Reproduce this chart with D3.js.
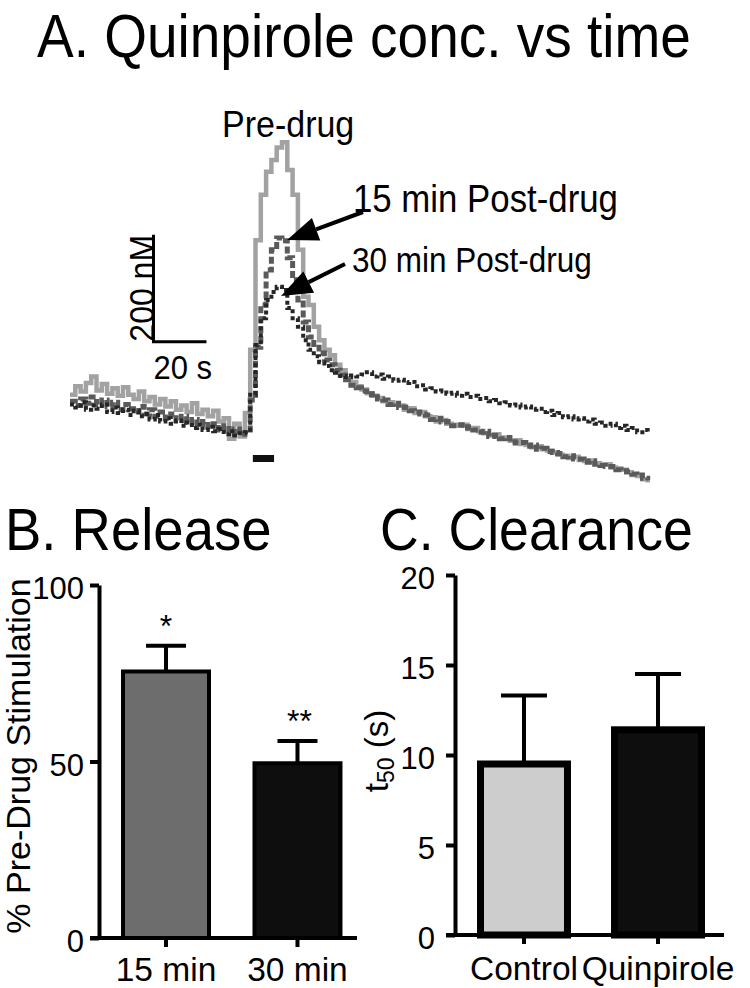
<!DOCTYPE html>
<html>
<head>
<meta charset="utf-8">
<script src="https://cdnjs.cloudflare.com/ajax/libs/d3/7.8.5/d3.min.js"></script>
<style>
  body { margin: 0; background: #fff; }
  svg text { font-family: "Liberation Sans", Arial, Helvetica, sans-serif; fill: #000; }
</style>
</head>
<body>
<svg id="fig" width="750" height="988"></svg>
<script>
// ---- panel A: voltammetry traces, one sample every 2 s (nM) ----
const sampleStep = 2
const preDrug = [
  178, 194, 184, 200, 212, 186, 198, 180, 190, 176, 192, 178, 170, 184, 166, 174,
  160, 170, 156, 166, 150, 158, 146, 162, 142, 150, 138, 148, 128, 134, 96, 124,
  100, 144, 262, 467, 552, 595, 617, 640, 650, 598, 552, 449, 361, 346, 305, 280,
  262, 252, 234, 224, 209, 202, 194, 188, 181, 176, 172, 166, 164, 160, 158, 150,
  153, 144, 146, 138, 136, 128, 131, 124, 122, 120, 122, 114, 116, 110, 106, 102,
  104, 98, 96, 92, 93, 86, 84, 80, 82, 76, 74, 70, 66, 64, 60, 62,
  56, 54, 55, 50, 47, 48, 42, 40, 38, 33, 28, 26, 20, 14
]
const post15 = [
  166, 158, 170, 162, 174, 160, 168, 156, 164, 150, 160, 152, 146, 156, 142, 150,
  138, 146, 134, 142, 130, 138, 126, 132, 122, 128, 118, 124, 112, 120, 106, 114,
  104, 112, 168, 267, 346, 411, 449, 471, 466, 434, 393, 355, 314, 286, 267, 256,
  243, 234, 224, 215, 206, 196, 191, 185, 178, 180, 170, 168, 160, 162, 154, 155,
  148, 146, 142, 140, 132, 134, 127, 128, 120, 122, 116, 118, 112, 108, 110, 100,
  102, 96, 98, 90, 88, 89, 82, 84, 76, 78, 72, 70, 68, 62, 64, 58,
  58, 52, 54, 48, 46, 44, 44, 38, 36, 34, 30, 28, 22, 18
]
const post30 = [
  160, 154, 164, 150, 158, 152, 160, 146, 154, 144, 150, 140, 148, 138, 142, 132,
  140, 128, 134, 124, 130, 120, 126, 116, 122, 112, 118, 110, 114, 104, 110, 102,
  106, 108, 178, 271, 321, 355, 370, 380, 374, 340, 321, 305, 280, 262, 250, 239,
  232, 224, 219, 213, 211, 214, 212, 216, 220, 212, 216, 208, 212, 204, 206, 200,
  202, 194, 196, 188, 190, 184, 186, 180, 182, 176, 180, 174, 176, 170, 172, 166,
  168, 162, 164, 158, 160, 154, 156, 150, 152, 146, 148, 140, 144, 136, 138, 132,
  134, 128, 132, 124, 126, 120, 124, 116, 120, 112, 116, 108, 112, 106
]
const stimWindow = [69, 77]      // s
const scaleBar = { t: 31.5, c: 277, dt: 20, dc: 200 }

// ---- panel B: release ----
const releaseGroups = ['15 min', '30 min']
const releaseMean = [75.5, 49.5]
const releaseSem = [7.3, 6.3]
const releaseStars = ['*', '**']
const releaseTicks = [0, 50, 100]

// ---- panel C: clearance ----
const clearGroups = ['Control', 'Quinpirole']
const clearMean = [9.5, 11.4]
const clearSem = [3.8, 3.1]
const clearTicks = [0, 5, 10, 15, 20]

const svg = d3.select('#fig')

// text with a slight vertical stretch, like the original figure's lettering
function label (x, y, txt, size, stretch) {
  return svg.append('text')
    .attr('transform', `translate(${x},${y}) scale(1,${stretch || 1.1})`)
    .attr('font-size', size)
    .text(txt)
}

// ================= A =================
label(37, 57, 'A. Quinpirole conc. vs time', 55)

const xA = d3.scaleLinear().domain([0, 220]).range([70, 653])
const yA = d3.scaleLinear().domain([0, 600]).range([490, 169])

const trace = d3.line()
  .x((d, i) => xA(i * sampleStep))
  .y(d => yA(d))
  .curve(d3.curveStepAfter)

svg.append('path').attr('d', trace(preDrug))
  .attr('fill', 'none').attr('stroke', '#a2a2a2').attr('stroke-width', 4.5)
svg.append('path').attr('d', trace(post15))
  .attr('fill', 'none').attr('stroke', '#5a5a5a').attr('stroke-width', 5)
  .attr('stroke-dasharray', '7,3')
svg.append('path').attr('d', trace(post30))
  .attr('fill', 'none').attr('stroke', '#262626').attr('stroke-width', 4)
  .attr('stroke-dasharray', '4,3')

// stimulation bar
svg.append('rect')
  .attr('x', xA(stimWindow[0])).attr('width', xA(stimWindow[1]) - xA(stimWindow[0]))
  .attr('y', 455).attr('height', 7).attr('fill', '#111')

// scale bar
const sb0x = xA(scaleBar.t), sb0y = yA(scaleBar.c)
svg.append('path')
  .attr('d', `M${sb0x},${yA(scaleBar.c + scaleBar.dc)}V${sb0y}H${xA(scaleBar.t + scaleBar.dt)}`)
  .attr('fill', 'none').attr('stroke', '#000').attr('stroke-width', 3)
svg.append('text')
  .attr('transform', `translate(${sb0x + 1},${(sb0y + yA(scaleBar.c + scaleBar.dc)) / 2}) rotate(-90) scale(1,1.1)`)
  .attr('text-anchor', 'middle').attr('font-size', 32).text('200 nM')
label(sb0x, 379, '20 s', 31)

// annotations
label(222, 137, 'Pre-drug', 34)
label(353, 212, '15 min Post-drug', 34.8)
label(352, 272, '30 min Post-drug', 31.5)

function arrow (x1, y1, x2, y2) {
  const dx = x1 - x2, dy = y1 - y2, len = Math.hypot(dx, dy)
  const ux = dx / len, uy = dy / len
  const hl = 31, hw = 12
  const bx = x2 + ux * hl, by = y2 + uy * hl
  svg.append('line').attr('x1', x1).attr('y1', y1).attr('x2', bx).attr('y2', by)
    .attr('stroke', '#000').attr('stroke-width', 4)
  svg.append('polygon')
    .attr('points', [[x2, y2], [bx - uy * hw, by + ux * hw], [bx + uy * hw, by - ux * hw]].join(' '))
    .attr('fill', '#000')
}
arrow(363, 212, 287, 240)
arrow(345, 264, 281, 296)

// ================= bar panels =================
function barPanel (opt) {
  const y = d3.scaleLinear().domain(opt.domain).range([opt.y0, opt.y1])
  const x = d3.scaleBand().domain(opt.groups).range(opt.xr)
    .paddingInner(opt.pi).paddingOuter(0.15)
  const g = svg.append('g')

  // error bars (upward only)
  opt.groups.forEach((k, i) => {
    const cx = x(k) + x.bandwidth() / 2
    const top = y(opt.mean[i] + opt.sem[i])
    g.append('path')
      .attr('d', `M${cx},${y(opt.mean[i])}V${top}M${cx - opt.cap},${top}H${cx + opt.cap}`)
      .attr('stroke', '#000').attr('stroke-width', 4).attr('fill', 'none')
  })

  g.selectAll('rect').data(opt.groups).enter().append('rect')
    .attr('x', d => x(d)).attr('width', x.bandwidth())
    .attr('y', (d, i) => y(opt.mean[i]))
    .attr('height', (d, i) => opt.y0 - y(opt.mean[i]))
    .attr('fill', (d, i) => opt.fills[i])
    .attr('stroke', '#000').attr('stroke-width', opt.bw)

  const ya = g.append('g').attr('transform', `translate(${opt.ax},0)`)
    .call(d3.axisLeft(y).tickValues(opt.ticks).tickSize(9).tickSizeOuter(0).tickPadding(opt.tp))
  ya.select('.domain').attr('stroke-width', 4)
  ya.selectAll('.tick line').attr('stroke-width', 4)
  ya.selectAll('.tick text').attr('font-size', 31).attr('font-family', null)
    .attr('dy', '0.45em')

  const xa = g.append('g').attr('transform', `translate(0,${opt.y0})`)
    .call(d3.axisBottom(x).tickSize(9).tickSizeOuter(0).tickPadding(opt.xp))
  xa.select('.domain').remove()
  xa.selectAll('.tick line').attr('stroke-width', 4)
  xa.selectAll('.tick text').attr('font-size', 33.5).attr('font-family', null)
  g.append('line').attr('x1', opt.ax - 9).attr('x2', opt.xEnd)
    .attr('y1', opt.y0).attr('y2', opt.y0)
    .attr('stroke', '#000').attr('stroke-width', 4)

  return { x, y }
}

// ---- B ----
label(5, 550, 'B. Release', 54.5)
const B = barPanel({
  groups: releaseGroups, mean: releaseMean, sem: releaseSem,
  domain: [0, 100], ticks: releaseTicks, y0: 938, y1: 585,
  xr: [103.3, 360.2], pi: 0.346, ax: 99, xEnd: 357,
  fills: ['#6d6d6d', '#0e0e0e'], bw: 4, cap: 20, tp: 6, xp: 10
})
releaseStars.forEach((s, i) => {
  svg.append('text')
    .attr('x', B.x(releaseGroups[i]) + B.x.bandwidth() / 2 + (i ? 2 : 0))
    .attr('y', B.y(releaseMean[i] + releaseSem[i]) - 9)
    .attr('text-anchor', 'middle').attr('font-size', 32).text(s)
})
svg.append('text')
  .attr('transform', 'translate(30,756) rotate(-90)')
  .attr('text-anchor', 'middle').attr('font-size', 34)
  .text('% Pre-Drug Stimulation')

// ---- C ----
label(380, 550, 'C. Clearance', 53.6)
barPanel({
  groups: clearGroups, mean: clearMean, sem: clearSem,
  domain: [0, 20], ticks: clearTicks, y0: 935, y1: 575,
  xr: [460.4, 721.6], pi: 0.351, ax: 455, xEnd: 724,
  fills: ['#cdcdcd', '#0e0e0e'], bw: 7, cap: 23, tp: 11, xp: 12
})
const tl = svg.append('text')
  .attr('transform', 'translate(388,751) rotate(-90)')
  .attr('text-anchor', 'middle').attr('font-size', 33)
tl.append('tspan').text('t')
tl.append('tspan').attr('font-size', 23).attr('dy', 6).text('50')
tl.append('tspan').attr('dy', -6).text(' (s)')
</script>
</body>
</html>
